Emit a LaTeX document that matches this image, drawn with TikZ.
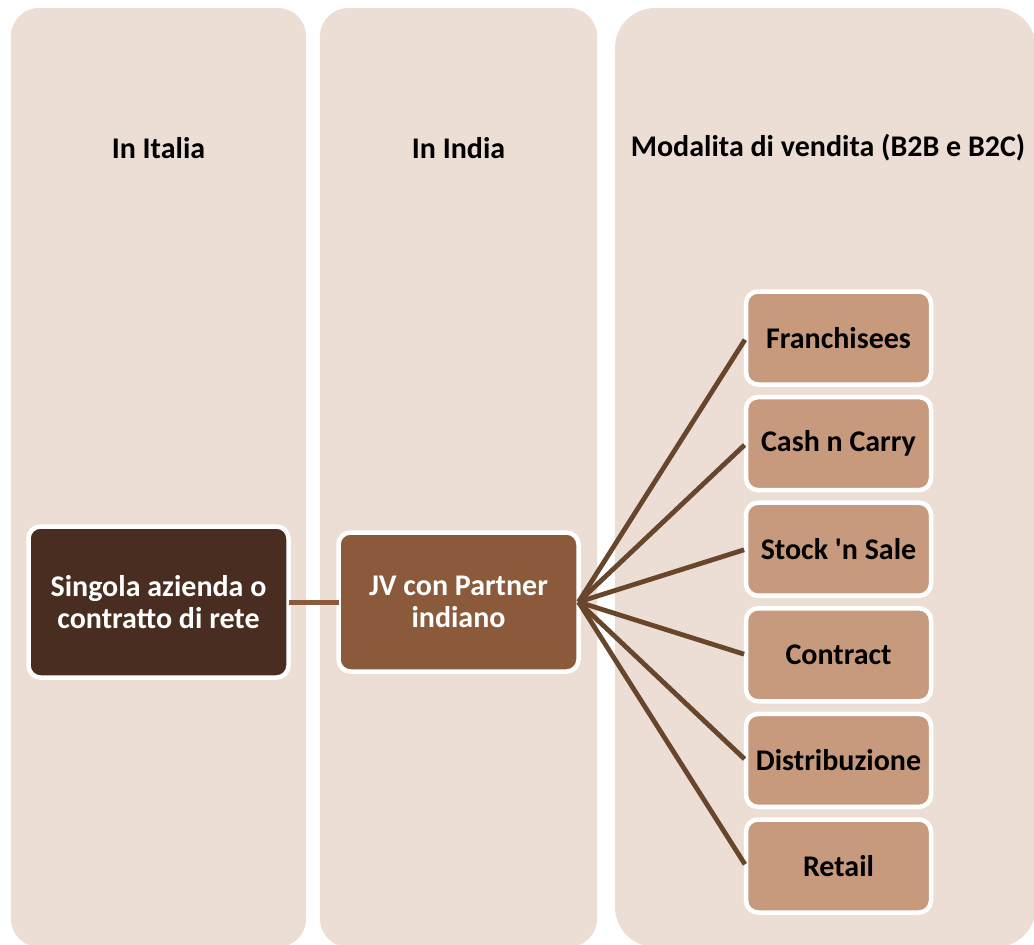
\documentclass[tikz,border=0pt]{standalone}
\usepackage{fontspec}
\setmainfont{Carlito}
\usepackage{xcolor}
\usetikzlibrary{positioning}

\definecolor{colbg}{RGB}{236,222,213}
\definecolor{rootbrown}{RGB}{73,45,32}
\definecolor{jvbrown}{RGB}{139,90,58}
\definecolor{modebrown}{RGB}{199,154,125}
\definecolor{fanbrown}{RGB}{104,70,44}

\tikzset{
  column/.style={fill=colbg},
  heading/.style={font=\fontsize{30}{32}\selectfont\bfseries, text=black},
  boxbase/.style={draw=white, line width=4.5pt, rounded corners=12pt,
    outer sep=0pt, align=center, inner sep=2pt,
    font=\fontsize{30}{32}\selectfont\bfseries},
  rootbox/.style={boxbase, fill=rootbrown, text=white,
    minimum width=260pt, minimum height=151pt},
  jvbox/.style={boxbase, fill=jvbrown, text=white,
    minimum width=240pt, minimum height=139pt},
  modebox/.style={boxbase, fill=modebrown, text=black,
    minimum width=185pt, minimum height=93pt},
  link/.style={draw=jvbrown, line width=5pt},
  fan/.style={draw=fanbrown, line width=4.8pt, shorten >=2pt}
}

\begin{document}
\begin{tikzpicture}[x=1pt,y=-1pt]
  \useasboundingbox (0,0) rectangle (1034,945);
  % the three columns
  \fill[column, rounded corners=28pt] (11,8) rectangle (306,947);
  \fill[column, rounded corners=28pt] (320,8) rectangle (597,947);
  \fill[column, rounded corners=40pt] (615,8) rectangle (1036,947);

  \node[heading] (hitalia) at (158.5,148) {In Italia};
  \node[heading] (hindia) at (458.5,148) {In India};
  \node[heading] (hmodi) at (828,148) {Modalita di vendita (B2B e B2C)};

  \node[rootbox] (azienda) at (158.5,602) {Singola azienda o\\contratto di rete};
  \node[jvbox] (jv) at (458.5,602) {JV con Partner\\indiano};

  % sales channels
  \node[modebox] (franch) at (838.5,338) {Franchisees};
  \node[modebox, below=12.6pt of franch] (cash) {Cash n Carry};
  \node[modebox, below=12.6pt of cash] (stock) {Stock \textquotesingle n Sale};
  \node[modebox, below=12.6pt of stock] (contract) {Contract};
  \node[modebox, below=12.6pt of contract] (distr) {Distribuzione};
  \node[modebox, below=12.6pt of distr] (retail) {Retail};

  \draw[link] (azienda.east) -- (jv.west);
  \foreach \m in {franch,cash,stock,contract,distr,retail}
    \draw[fan] (jv.east) -- (\m.west);
\end{tikzpicture}
\end{document}
